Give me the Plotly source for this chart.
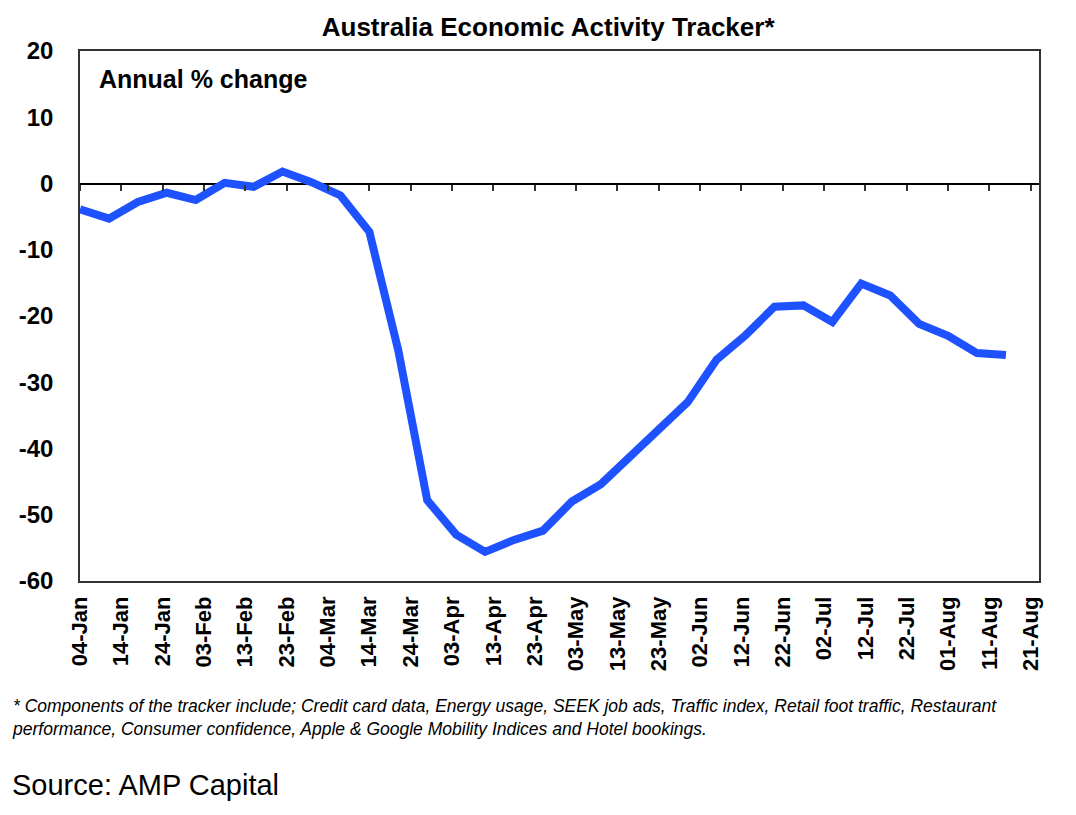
import pandas as pd
import plotly.graph_objects as go

# weekly readings, annual % change
week_start = "2020-01-04"
values = [
    -3.9, -5.3, -2.8, -1.4, -2.5, 0.1, -0.5, 1.8, 0.2, -1.8,
    -7.3, -25.2, -47.8, -53.0, -55.6, -53.8, -52.4, -48.0, -45.4, -41.3,
    -36.8, -33.0, -26.6, -22.9, -18.6, -18.4, -20.9, -15.1, -16.9, -21.2,
    -23.0, -25.6, -25.9,
]
dates = pd.date_range(week_start, periods=len(values), freq="7D")

y_ticks = [20, 10, 0, -10, -20, -30, -40, -50, -60]
x_range = ["2020-01-04", "2020-08-23"]

title_text = "Australia Economic Activity Tracker*"
unit_text = "Annual % change"
footnote = (
    "* Components of the tracker include; Credit card data, Energy usage, SEEK job ads, "
    "Traffic index, Retail foot traffic, Restaurant<br>performance, Consumer confidence, "
    "Apple & Google Mobility Indices and Hotel bookings."
)
source_text = "Source: AMP Capital"

font = "Liberation Sans, Arial, sans-serif"
ten_days = 10 * 86400000

fig = go.Figure()
fig.add_trace(
    go.Scatter(
        x=dates,
        y=values,
        mode="lines",
        line=dict(color="#1f52ff", width=8),
        hoverinfo="x+y",
    )
)

fig.update_layout(
    width=1076,
    height=815,
    margin=dict(l=72, r=45, t=43, b=242),
    paper_bgcolor="white",
    plot_bgcolor="white",
    showlegend=False,
    title=dict(
        text=title_text,
        x=0.502,
        xanchor="center",
        y=0.977,
        yanchor="middle",
        font=dict(family=font, size=26, color="black", weight="bold"),
    ),
    xaxis=dict(
        type="date",
        range=x_range,
        tick0=week_start,
        dtick=ten_days,
        tickformat="%d-%b",
        tickangle=-90,
        ticks="",
        showgrid=False,
        zeroline=False,
        showline=True,
        linecolor="#333333",
        linewidth=1.5,
        mirror=True,
        tickfont=dict(family=font, size=22, color="black", weight="bold"),
        ticklabelstandoff=5,
    ),
    xaxis2=dict(
        type="date",
        overlaying="x",
        matches="x",
        anchor="free",
        position=0.75,
        side="bottom",
        tick0=week_start,
        dtick=ten_days,
        ticks="outside",
        ticklen=6,
        tickwidth=1.5,
        tickcolor="#333333",
        showticklabels=False,
        showgrid=False,
        zeroline=False,
        showline=False,
    ),
    yaxis=dict(
        range=[-60, 20],
        tickvals=y_ticks,
        ticktext=[str(v) for v in y_ticks],
        ticks="",
        showgrid=False,
        zeroline=True,
        zerolinecolor="black",
        zerolinewidth=1.5,
        showline=True,
        linecolor="#333333",
        linewidth=1.5,
        mirror=True,
        tickfont=dict(family=font, size=24, color="black", weight="bold"),
        ticklabelstandoff=20,
    ),
    annotations=[
        dict(
            text=unit_text,
            xref="paper", yref="paper",
            x=0.0177, y=0.9466,
            xanchor="left", yanchor="middle",
            showarrow=False,
            font=dict(family=font, size=25, color="black", weight="bold"),
        ),
        dict(
            text=footnote,
            xref="paper", yref="paper",
            x=-0.0725, y=-0.214,
            xanchor="left", yanchor="top", align="left",
            showarrow=False,
            font=dict(family=font, size=17.5, color="black", style="italic"),
        ),
        dict(
            text=source_text,
            xref="paper", yref="paper",
            x=-0.0725, y=-0.385,
            xanchor="left", yanchor="middle",
            showarrow=False,
            font=dict(family=font, size=29, color="black"),
        ),
    ],
)

# empty trace so the zero-line tick axis gets drawn
fig.add_trace(go.Scatter(x=[], y=[], xaxis="x2", showlegend=False, hoverinfo="skip"))

fig.write_html("out.html")
